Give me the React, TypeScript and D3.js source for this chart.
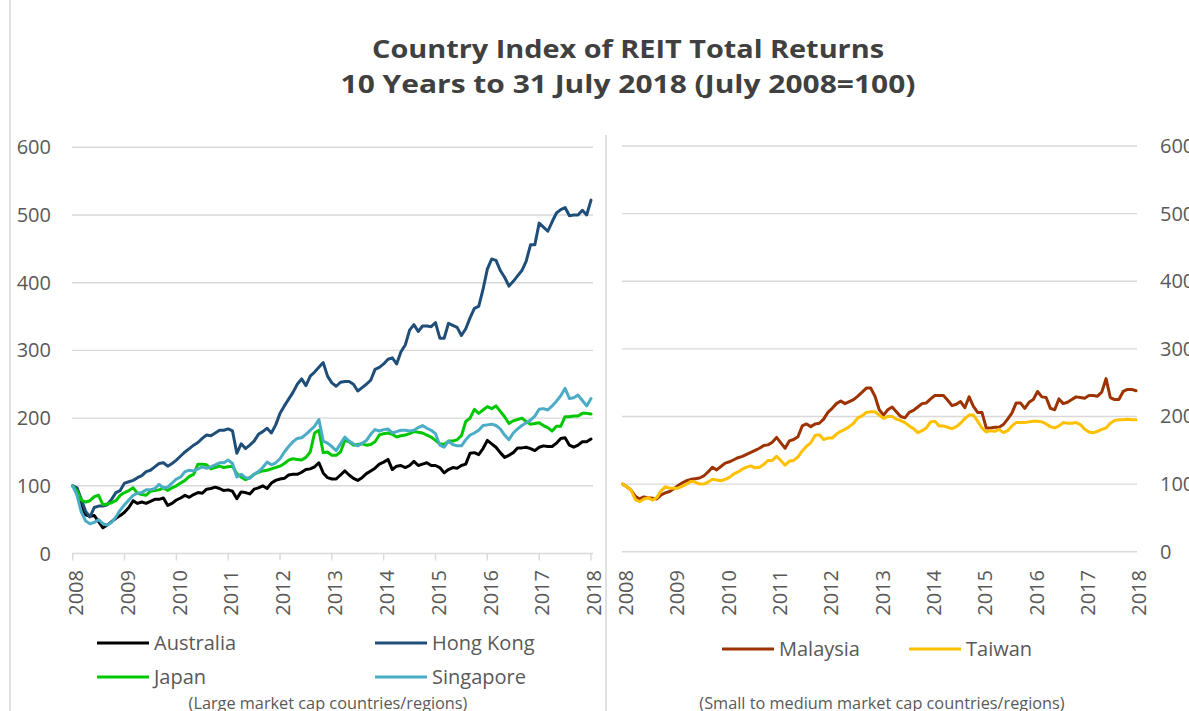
import React from 'react';
import * as d3 from 'd3';

const years = ['2008', '2009', '2010', '2011', '2012', '2013', '2014', '2015', '2016', '2017', '2018'];
const yTicks = [0, 100, 200, 300, 400, 500, 600];

const australia = [
  100, 94, 70, 57, 55, 56, 47, 38, 42, 47,
  52, 56, 61, 68, 78, 74, 76, 74, 77, 80,
  80, 82, 71, 74, 79, 82, 86, 83, 87, 90,
  89, 95, 96, 98, 96, 93, 94, 92, 81, 91,
  90, 88, 95, 97, 100, 96, 104, 108, 110, 111,
  116, 117, 117, 120, 124, 125, 128, 134, 119, 112,
  110, 110, 116, 122, 116, 111, 108, 112, 118, 122,
  126, 132, 135, 139, 124, 129, 130, 127, 130, 136,
  130, 132, 134, 130, 130, 127, 119, 124, 127, 126,
  130, 132, 148, 149, 146, 155, 167, 162, 157, 149,
  142, 145, 149, 156, 156, 157, 155, 152, 157, 159,
  158, 158, 163, 170, 171, 160, 157, 160, 165, 165,
  169,
];

const hongKong = [
  100, 97, 80, 62, 54, 68, 70, 70, 72, 80,
  90, 93, 104, 106, 108, 112, 115, 121, 123, 128,
  133, 134, 129, 133, 138, 144, 150, 155, 160, 164,
  170, 175, 174, 178, 182, 182, 184, 181, 148, 162,
  155, 160, 166, 176, 180, 185, 178, 190, 207, 218,
  228, 238, 250, 258, 248, 262, 268, 275, 282, 262,
  252, 247, 253, 254, 254, 250, 240, 245, 250, 256,
  272, 275, 280, 287, 289, 280, 298, 308, 330, 338,
  328, 336, 336, 335, 341, 318, 318, 340, 337, 334,
  322, 332, 348, 362, 365, 390, 420, 435, 433, 418,
  408, 395, 402, 410, 418, 432, 456, 456, 488, 482,
  476, 490, 503, 508, 511, 499, 500, 500, 507, 500,
  522,
];

const japan = [
  100, 92, 79, 76, 78, 84, 86, 72, 73, 75,
  78, 86, 90, 93, 97, 89, 87, 86, 92, 93,
  94, 97, 93, 97, 100, 104, 108, 114, 117, 132,
  132, 131, 125, 127, 129, 127, 128, 129, 118, 113,
  109, 112, 117, 120, 122, 123, 125, 127, 129, 133,
  138, 140, 139, 138, 142, 150, 178, 182, 149, 150,
  145, 145, 150, 167, 165, 160, 161, 162, 160, 161,
  165, 175, 177, 178, 176, 172, 174, 175, 177, 180,
  179, 178, 175, 172, 167, 162, 161, 166, 166, 168,
  174, 195, 200, 213, 207, 212, 217, 214, 218, 210,
  202, 192, 196, 198, 200, 195, 191, 192, 193, 189,
  186, 181, 188, 188, 202, 202, 203, 203, 207, 207,
  206,
];

const singapore = [
  100, 86, 61, 48, 44, 46, 50, 44, 42, 46,
  54, 64, 72, 79, 86, 89, 90, 94, 94, 96,
  102, 97, 98, 104, 110, 113, 121, 123, 122, 125,
  128, 126, 128, 131, 134, 134, 138, 133, 113, 117,
  112, 111, 117, 121, 127, 135, 131, 134, 140, 150,
  158, 165, 170, 171, 176, 182, 188, 198, 166, 163,
  158, 152, 162, 172, 166, 162, 159, 163, 167, 176,
  183, 181, 183, 184, 178, 180, 182, 182, 181, 182,
  186, 189, 185, 182, 177, 160, 157, 166, 161, 159,
  159, 168, 175, 178, 182, 189, 190, 191, 189, 184,
  175, 168, 178, 184, 189, 193, 197, 203, 213, 214,
  212, 218, 225, 233, 244, 229, 230, 234, 226, 218,
  229,
];

const malaysia = [
  100, 96, 91, 82, 78, 81, 80, 79, 78, 84,
  87, 89, 93, 98, 102, 105, 107, 108, 109, 112,
  118, 125, 121, 126, 131, 133, 136, 139, 141, 144,
  147, 150, 153, 157, 158, 162, 169, 161, 153, 164,
  166, 170, 186, 189, 185, 189, 190, 196, 206, 212,
  219, 223, 219, 222, 225, 230, 236, 242, 242, 230,
  210, 202, 210, 214, 207, 200, 198, 206, 209, 214,
  219, 220, 226, 231, 231, 231, 224, 216, 218, 222,
  213, 229, 215, 206, 206, 183, 183, 184, 184, 188,
  196, 205, 220, 220, 212, 221, 225, 237, 229, 228,
  212, 210, 226, 219, 221, 225, 229, 228, 227, 231,
  231, 230, 236, 256, 228, 225, 225, 237, 240, 240,
  238,
];

const taiwan = [
  100, 96, 91, 77, 74, 78, 80, 76, 80, 90,
  96, 94, 94, 94, 97, 100, 104, 103, 100, 100,
  103, 107, 106, 105, 107, 110, 115, 118, 122, 125,
  127, 124, 125, 129, 135, 135, 141, 135, 128, 134,
  135, 140, 149, 156, 161, 172, 173, 166, 168, 168,
  174, 178, 181, 185, 190, 198, 201, 206, 207, 207,
  202, 197, 200, 200, 196, 194, 191, 186, 182, 176,
  179, 183, 192, 193, 186, 186, 184, 182, 185, 190,
  197, 202, 202, 193, 183, 177, 179, 178, 181, 176,
  179, 186, 191, 191, 191, 192, 193, 193, 192, 189,
  185, 183, 186, 191, 190, 190, 191, 188, 181, 177,
  176, 178, 181, 183, 190, 194, 195, 195, 196, 195,
  195,
];

const leftNames = ['Australia', 'Hong Kong', 'Japan', 'Singapore'];
const rightNames = ['Malaysia', 'Taiwan'];
const leftValues = [australia, hongKong, japan, singapore];
const rightValues = [malaysia, taiwan];
const leftColors = ['#000000', '#1f4e79', '#00c800', '#4bacc6'];
const rightColors = ['#9c3300', '#ffc000'];

const FONT = "'Open Sans', Lato, 'DejaVu Sans', sans-serif";
const GRID = '#d9d9d9';
const LABEL = '#595959';

type PanelProps = {
  x: d3.ScaleLinear<number, number>;
  y: d3.ScaleLinear<number, number>;
  gridX0: number;
  gridX1: number;
  labelSide: 'left' | 'right';
  labelX: number;
  tickMarks: boolean;
  values: number[][];
  colors: string[];
};

function Panel({ x, y, gridX0, gridX1, labelSide, labelX, tickMarks, values, colors }: PanelProps) {
  const line = d3
    .line<number>()
    .x((_, i) => x(i))
    .y((d) => y(d));
  const y0 = y(0);
  return (
    <g>
      {yTicks.map((t) => (
        <g key={t}>
          <line x1={gridX0} x2={gridX1} y1={y(t)} y2={y(t)} stroke={GRID} strokeWidth={1.4} />
          <text
            x={labelX}
            y={y(t)}
            dy="0.35em"
            textAnchor={labelSide === 'left' ? 'end' : 'start'}
            fontFamily={FONT}
            fontSize={20}
            fill={LABEL}
          >
            {t}
          </text>
        </g>
      ))}
      {years.map((yr, k) => {
        const tx = x(k * 12);
        return (
          <g key={yr}>
            {tickMarks && <line x1={tx} x2={tx} y1={y0} y2={y0 + 7} stroke={GRID} strokeWidth={1.4} />}
            <text
              transform={`translate(${tx + 10.3},570) rotate(-90)`}
              textAnchor="end"
              fontFamily={FONT}
              fontSize={20}
              fill={LABEL}
            >
              {yr}
            </text>
          </g>
        );
      })}
      {values.map((v, i) => (
        <path
          key={i}
          d={line(v) || ''}
          fill="none"
          stroke={colors[i]}
          strokeWidth={3}
          strokeLinejoin="round"
          strokeLinecap="round"
        />
      ))}
    </g>
  );
}

function LegendItem({ x, y, color, label }: { x: number; y: number; color: string; label: string }) {
  return (
    <g>
      <line x1={x} x2={x + 52} y1={y} y2={y} stroke={color} strokeWidth={3} />
      <text x={x + 57} y={y} dy="0.35em" fontFamily={FONT} fontSize={20} fill={LABEL}>
        {label}
      </text>
    </g>
  );
}

export default function App() {
  const xL = d3.scaleLinear().domain([0, 120]).range([72.7, 591]);
  const yL = d3.scaleLinear().domain([0, 600]).range([553.5, 147.3]);
  const xR = d3.scaleLinear().domain([0, 120]).range([622.5, 1136]);
  const yR = d3.scaleLinear().domain([0, 600]).range([551.7, 146]);

  const leftLegendPos = [
    [97, 643],
    [375, 643],
    [97, 677],
    [375, 677],
  ];
  const rightLegendPos = [
    [722, 649],
    [909, 649],
  ];

  return (
    <div style={{ position: 'absolute', left: 0, top: 0 }}>
      <svg width={1189} height={711} style={{ display: 'block', background: '#fff' }}>
        <line x1={10} x2={10} y1={0} y2={711} stroke={GRID} strokeWidth={1.6} />
        <line x1={606} x2={606} y1={135} y2={711} stroke={GRID} strokeWidth={1.6} />
        <text
          x={628}
          y={58}
          textAnchor="middle"
          fontFamily={FONT}
          fontWeight={700}
          fontSize={25.5}
          fill="#404040"
          textLength={512}
          lengthAdjust="spacingAndGlyphs"
        >
          Country Index of REIT Total Returns
        </text>
        <text
          x={628}
          y={93}
          textAnchor="middle"
          fontFamily={FONT}
          fontWeight={700}
          fontSize={25.5}
          fill="#404040"
          textLength={575}
          lengthAdjust="spacingAndGlyphs"
        >
          10 Years to 31 July 2018 (July 2008=100)
        </text>
        <Panel
          x={xL}
          y={yL}
          gridX0={72}
          gridX1={593}
          labelSide="left"
          labelX={51}
          tickMarks={true}
          values={leftValues}
          colors={leftColors}
        />
        <Panel
          x={xR}
          y={yR}
          gridX0={622}
          gridX1={1137}
          labelSide="right"
          labelX={1160}
          tickMarks={false}
          values={rightValues}
          colors={rightColors}
        />
        {leftNames.map((n, i) => (
          <LegendItem key={n} x={leftLegendPos[i][0]} y={leftLegendPos[i][1]} color={leftColors[i]} label={n} />
        ))}
        {rightNames.map((n, i) => (
          <LegendItem key={n} x={rightLegendPos[i][0]} y={rightLegendPos[i][1]} color={rightColors[i]} label={n} />
        ))}
        <text x={328} y={703} dy="0.35em" textAnchor="middle" fontFamily={FONT} fontSize={16.3} fill={LABEL}>
          (Large market cap countries/regions)
        </text>
        <text x={882} y={703} dy="0.35em" textAnchor="middle" fontFamily={FONT} fontSize={16.3} fill={LABEL}>
          (Small to medium market cap countries/regions)
        </text>
      </svg>
    </div>
  );
}
